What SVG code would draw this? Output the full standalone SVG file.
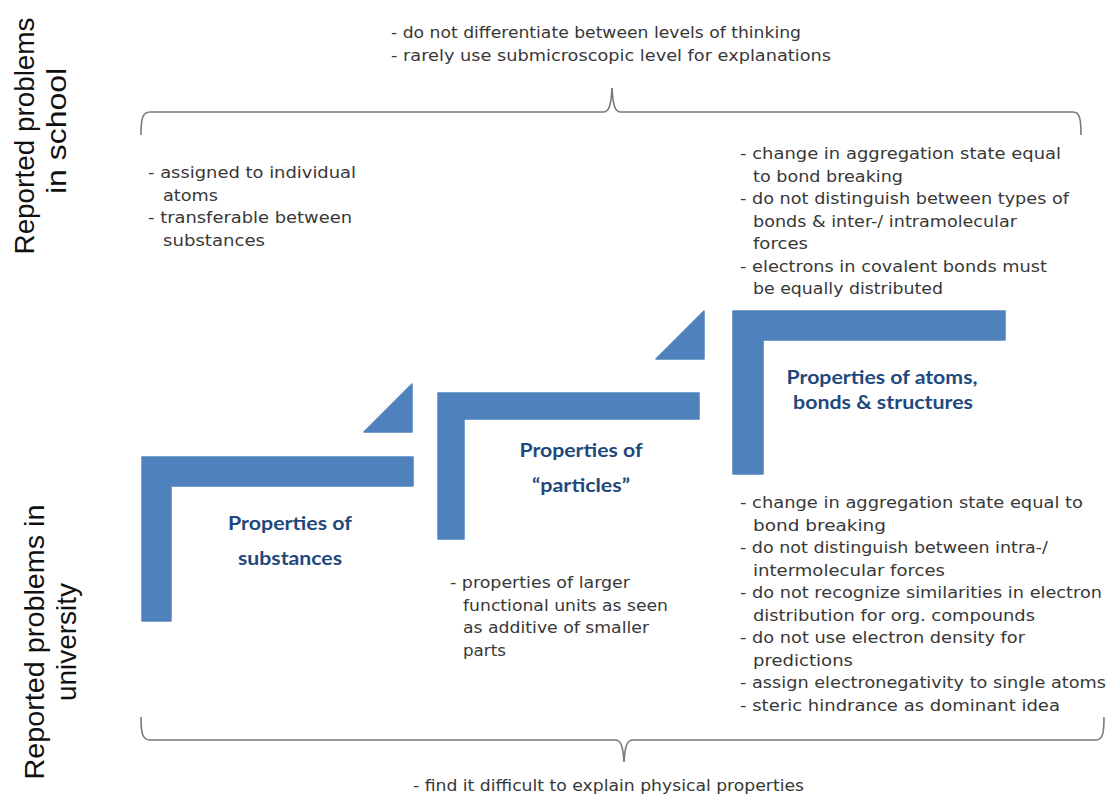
<svg xmlns="http://www.w3.org/2000/svg" width="1110" height="796" viewBox="0 0 1110 796">
<defs>
<style>
.bg{fill:#ffffff}
.shape{fill:#4F81BD;stroke:#4F81BD;stroke-width:1.5;stroke-linejoin:round}
.title{font-family:Lato,"Open Sans","Liberation Sans",sans-serif;font-weight:bold;font-size:18.5px;fill:#1F497D;text-anchor:middle}
.body{font-family:"DejaVu Sans","Liberation Sans",sans-serif;font-size:15.5px;fill:#383838}
.side{font-family:"Liberation Sans",Arial,sans-serif;font-size:28px;fill:#111111;text-anchor:middle}
.brace{fill:none;stroke:#7a7a7a;stroke-width:1.6}
</style>
</defs>
<rect class="bg" x="0" y="0" width="1110" height="796"/>

<g id="label-school">
<text class="side" transform="translate(34,136) rotate(-90)" textLength="237" lengthAdjust="spacingAndGlyphs">Reported problems</text>
<text class="side" transform="translate(66,131) rotate(-90)" textLength="126" lengthAdjust="spacingAndGlyphs">in school</text>
</g>
<g id="label-university">
<text class="side" transform="translate(44,642) rotate(-90)" textLength="275" lengthAdjust="spacingAndGlyphs">Reported problems in</text>
<text class="side" transform="translate(76,642) rotate(-90)" textLength="118" lengthAdjust="spacingAndGlyphs">university</text>
</g>

<g id="connectors">
<path class="brace" d="M141,135 C141,120 142,112 150,112 L603,112 C609,112 611,106 612,88 C613,106 615,112 621,112 L1073,112 C1080,112 1081,120 1081,135"/>
<path class="brace" d="M141,717 C141,732 142,740 150,740 L615,740 C621,740 623,746 624,762 C625,746 627,740 633,740 L1096,740 C1103,740 1104,732 1104,717"/>
</g>

<g id="school-general">
<text class="body" x="391" y="38" textLength="410" lengthAdjust="spacingAndGlyphs">- do not differentiate between levels of thinking</text>
<text class="body" x="391" y="61" textLength="440" lengthAdjust="spacingAndGlyphs">- rarely use submicroscopic level for explanations</text>
</g>

<g id="university-general">
<text class="body" x="413" y="791" textLength="391" lengthAdjust="spacingAndGlyphs">- find it difficult to explain physical properties</text>
</g>

<g id="node-substances">
<path class="shape" d="M142,457 H413 V486 H171 V621 H142 Z"/>
<text class="title" x="290" y="530" textLength="124" lengthAdjust="spacingAndGlyphs">Properties of</text>
<text class="title" x="290" y="565" textLength="104" lengthAdjust="spacingAndGlyphs">substances</text>
</g>

<g id="arrow-1">
<path class="shape" d="M364,432 L412,384 V432 Z"/>
</g>

<g id="node-particles">
<path class="shape" d="M438,393 H699 V419 H464 V539 H438 Z"/>
<text class="title" x="581" y="457" textLength="123" lengthAdjust="spacingAndGlyphs">Properties of</text>
<text class="title" x="581" y="492" textLength="98" lengthAdjust="spacingAndGlyphs">“particles”</text>
</g>

<g id="arrow-2">
<path class="shape" d="M656,359 L704,311 V359 Z"/>
</g>

<g id="node-atoms">
<path class="shape" d="M733,311 H1005 V340 H763 V474 H733 Z"/>
<text class="title" x="882" y="384" textLength="191" lengthAdjust="spacingAndGlyphs">Properties of atoms,</text>
<text class="title" x="883" y="409" textLength="180" lengthAdjust="spacingAndGlyphs">bonds &amp; structures</text>
</g>

<g id="school-substances">
<text class="body" x="148" y="178" textLength="208" lengthAdjust="spacingAndGlyphs">- assigned to individual</text>
<text class="body" x="163" y="200.5" textLength="55" lengthAdjust="spacingAndGlyphs">atoms</text>
<text class="body" x="148" y="223" textLength="204" lengthAdjust="spacingAndGlyphs">- transferable between</text>
<text class="body" x="163" y="245.5" textLength="102" lengthAdjust="spacingAndGlyphs">substances</text>
</g>

<g id="school-atoms">
<text class="body" x="740" y="159" textLength="321" lengthAdjust="spacingAndGlyphs">- change in aggregation state equal</text>
<text class="body" x="753" y="181.5" textLength="150" lengthAdjust="spacingAndGlyphs">to bond breaking</text>
<text class="body" x="740" y="204" textLength="329" lengthAdjust="spacingAndGlyphs">- do not distinguish between types of</text>
<text class="body" x="753" y="226.5" textLength="264" lengthAdjust="spacingAndGlyphs">bonds &amp; inter-/ intramolecular</text>
<text class="body" x="753" y="249" textLength="55" lengthAdjust="spacingAndGlyphs">forces</text>
<text class="body" x="740" y="271.5" textLength="307" lengthAdjust="spacingAndGlyphs">- electrons in covalent bonds must</text>
<text class="body" x="753" y="294" textLength="190" lengthAdjust="spacingAndGlyphs">be equally distributed</text>
</g>

<g id="university-particles">
<text class="body" x="450" y="588" textLength="180" lengthAdjust="spacingAndGlyphs">- properties of larger</text>
<text class="body" x="463" y="610.5" textLength="205" lengthAdjust="spacingAndGlyphs">functional units as seen</text>
<text class="body" x="463" y="633" textLength="186" lengthAdjust="spacingAndGlyphs">as additive of smaller</text>
<text class="body" x="463" y="655.5" textLength="43" lengthAdjust="spacingAndGlyphs">parts</text>
</g>

<g id="university-atoms">
<text class="body" x="740" y="508" textLength="343" lengthAdjust="spacingAndGlyphs">- change in aggregation state equal to</text>
<text class="body" x="753" y="530.5" textLength="133" lengthAdjust="spacingAndGlyphs">bond breaking</text>
<text class="body" x="740" y="553" textLength="308" lengthAdjust="spacingAndGlyphs">- do not distinguish between intra-/</text>
<text class="body" x="753" y="575.5" textLength="192" lengthAdjust="spacingAndGlyphs">intermolecular forces</text>
<text class="body" x="740" y="598" textLength="362" lengthAdjust="spacingAndGlyphs">- do not recognize similarities in electron</text>
<text class="body" x="753" y="620.5" textLength="282" lengthAdjust="spacingAndGlyphs">distribution for org. compounds</text>
<text class="body" x="740" y="643" textLength="285" lengthAdjust="spacingAndGlyphs">- do not use electron density for</text>
<text class="body" x="753" y="665.5" textLength="100" lengthAdjust="spacingAndGlyphs">predictions</text>
<text class="body" x="740" y="688" textLength="366" lengthAdjust="spacingAndGlyphs">- assign electronegativity to single atoms</text>
<text class="body" x="740" y="710.5" textLength="320" lengthAdjust="spacingAndGlyphs">- steric hindrance as dominant idea</text>
</g>
</svg>
